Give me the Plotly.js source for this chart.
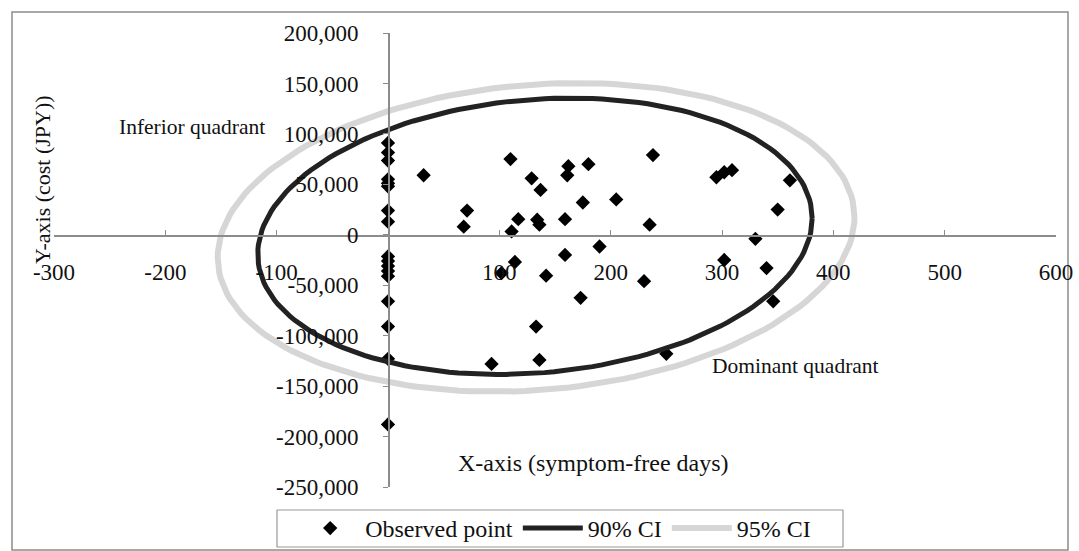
<!DOCTYPE html>
<html>
<head>
<meta charset="utf-8">
<script src="https://cdn.plot.ly/plotly-3.0.1.min.js"></script>
<style>html,body{margin:0;padding:0;background:#fff;}#chart{width:1079px;height:551px;}</style>
</head>
<body>
<div id="chart"></div>
<script>
// Observed points: symptom-free days (x) and cost in JPY (y)
var obsX = [0,0,0,0,0,0,0,0,0,0,0,0,0,0,0,0,0,
  32,71,68,110,129,111,117,134,136,114,102,93,133,
  137,162,161,180,238,175,205,159,235,190,159,142,173,230,136,250,
  295,302,309,361,350,330,302,340,346];
var obsY = [91000,81500,73600,55000,51000,48000,24000,13000,-21500,-26000,-31000,-36000,-41000,-66000,-91000,-123000,-188000,
  59000,24000,8000,75000,56000,3300,15500,15000,10000,-27000,-38000,-128000,-91000,
  44500,68000,59000,70000,79000,32000,35000,15500,10000,-11600,-20000,-40500,-62500,-46000,-124000,-118000,
  57000,62000,64000,54000,25000,-4000,-25000,-33000,-66000];

// Confidence ellipse parameters: [centre x, centre y, half-width x, half-height y, correlation]
var ci90 = [132, -1500, 249, 137000, 0.13];
var ci95 = [133, -2500, 286, 153000, 0.13];

var xTickVals = [-300,-200,-100,100,200,300,400,500,600];
var xTickText = ['-300','-200','-100','100','200','300','400','500','600'];
var yTickVals = [200000,150000,100000,50000,0,-50000,-100000,-150000,-200000,-250000];
var yTickText = ['200,000','150,000','100,000','50,000','0','-50,000','-100,000','-150,000','-200,000','-250,000'];

function ellipse(p){
  var xs=[], ys=[], n=180;
  var s = Math.sqrt(1-p[4]*p[4]);
  for(var i=0;i<=n;i++){
    var t = 2*Math.PI*i/n;
    xs.push(p[0] + p[2]*Math.cos(t));
    ys.push(p[1] + p[3]*(p[4]*Math.cos(t) + s*Math.sin(t)));
  }
  return {x:xs, y:ys};
}
var e90 = ellipse(ci90), e95 = ellipse(ci95);

// plot area in pixels
var L=54, R=1056, T=33, B=487, W=1079, H=551;
function px(x){return (x-L)/(R-L);}
function py(y){return (B-y)/(B-T);}

var font = 'Liberation Serif';

var traces = [
  {x:obsX, y:obsY, type:'scatter', mode:'markers', name:'Observed point',
   marker:{symbol:'diamond', size:11, color:'#000'}},
  {x:e90.x, y:e90.y, type:'scatter', mode:'lines', name:'90% CI',
   line:{color:'#222', width:5}},
  {x:e95.x, y:e95.y, type:'scatter', mode:'lines', name:'95% CI',
   line:{color:'#d6d6d6', width:6}}
];

var layout = {
  width:W, height:H,
  margin:{l:L, r:W-R, t:T, b:H-B},
  paper_bgcolor:'#fff', plot_bgcolor:'#fff',
  font:{family:font, size:21, color:'#111'},
  showlegend:true,
  legend:{orientation:'h', x:0.515, xanchor:'center', xref:'container', y:(H-506)/H, yref:'container', yanchor:'top',
    borderwidth:0, bgcolor:'rgba(0,0,0,0)', font:{family:font, size:24, color:'#111'},
    traceorder:'normal', itemwidth:60},
  xaxis:{range:[-300,600], anchor:'free', position:py(235), showgrid:false, zeroline:false, automargin:false,
    showline:true, linecolor:'#8c8c8c', linewidth:1.5, ticks:'inside', ticklen:5, tickcolor:'#8c8c8c',
    tickvals:xTickVals, ticktext:xTickText, ticklabelstandoff:16,
    tickfont:{family:font, size:23, color:'#111'}},
  yaxis:{range:[-250000,200000], anchor:'free', position:px(388), showgrid:false, zeroline:false, automargin:false,
    showline:true, linecolor:'#8c8c8c', linewidth:1.5, ticks:'outside', ticklen:5, tickcolor:'#8c8c8c',
    tickvals:yTickVals, ticktext:yTickText, ticklabelstandoff:20,
    tickfont:{family:font, size:23, color:'#111'}},
  annotations:[
    {text:'Inferior quadrant', xref:'paper', yref:'paper', x:px(192), y:py(127), showarrow:false, xanchor:'center', yanchor:'middle', font:{size:21.5}},
    {text:'Dominant quadrant', xref:'paper', yref:'paper', x:px(795), y:py(366), showarrow:false, xanchor:'center', yanchor:'middle', font:{size:21.5}},
    {text:'X-axis (symptom-free days)', xref:'paper', yref:'paper', x:px(593), y:py(463), showarrow:false, xanchor:'center', yanchor:'middle', font:{size:24}},
    {text:'Y-axis (cost (JPY))', xref:'paper', yref:'paper', x:px(43), y:py(180), showarrow:false, textangle:-90, xanchor:'center', yanchor:'middle', font:{size:22}}
  ],
  shapes:[
    {type:'rect', xref:'paper', yref:'paper', x0:px(12), x1:px(1068), y0:py(550), y1:py(12),
     line:{color:'#8c8c8c', width:1.5}, fillcolor:'rgba(0,0,0,0)', layer:'below'},
    {type:'rect', xref:'paper', yref:'paper', x0:px(277), x1:px(843), y0:py(547), y1:py(510),
     line:{color:'#999', width:1.2}, fillcolor:'#fff', layer:'below'}
  ]
};

Plotly.newPlot('chart', traces, layout, {displayModeBar:false, staticPlot:true});
</script>
</body>
</html>
